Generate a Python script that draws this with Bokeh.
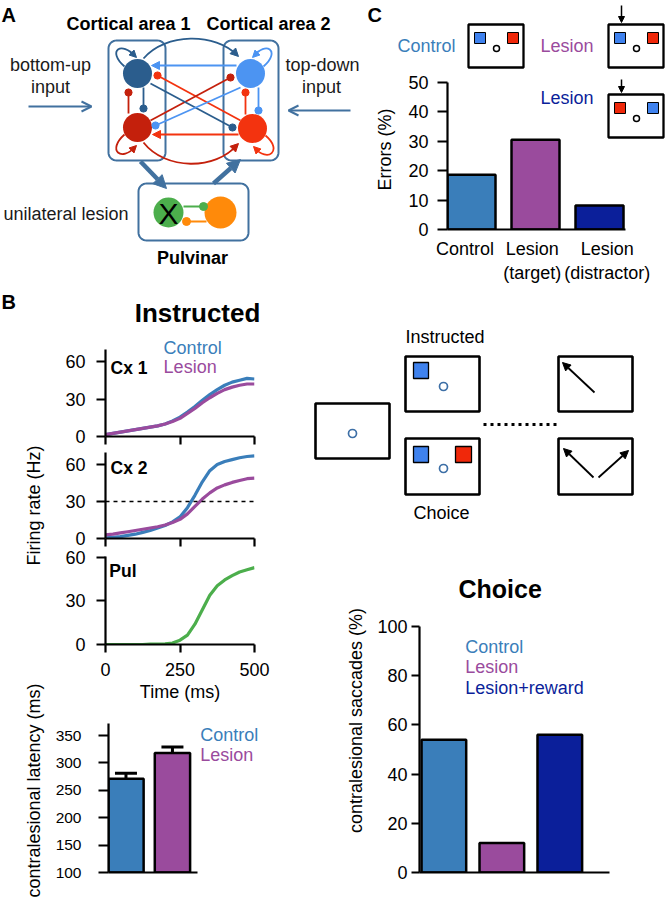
import numpy as np
from bokeh.plotting import figure
from bokeh.layouts import row, column
from bokeh.models import (Range1d, FixedTicker, Arrow, NormalHead, OpenHead, Whisker,
                          TeeHead, ColumnDataSource, Span)
from bokeh.embed import file_html
from bokeh.resources import INLINE
from bokeh.core.properties import value

S = 1.0
FONT = "Liberation Sans"

# ---------------- data ----------------
time_ms = [0, 25, 50, 75, 100, 125, 150, 175, 200, 225, 250, 275, 300, 325, 350, 375, 400, 425, 450, 475, 500]
cx1_control = [1.5, 2.5, 3.5, 4.5, 5.5, 6.5, 7.5, 8.5, 10, 12.5, 15.5, 19.5, 24, 29, 33.5, 37.5, 41, 43.5, 45, 46.5, 46]
cx1_lesion = [1.5, 2.5, 3.5, 4.5, 5.5, 6.5, 7.5, 8.5, 10, 12, 14.5, 18.5, 22.5, 27, 31, 34.5, 37.5, 39.5, 41, 42, 42]
cx2_control = [0.5, 1, 1.5, 2.5, 3.5, 5, 6.5, 8.5, 10.5, 13.5, 17.5, 25, 35, 46, 55, 60, 62.5, 64, 65.5, 66.5, 67]
cx2_lesion = [3, 3.5, 4.5, 5.5, 6.5, 7.5, 8.5, 9.5, 11, 13, 15.5, 20, 26, 32, 37, 41, 43.5, 45.5, 47, 48.5, 49]
pul_rate = [0, 0, 0, 0, 0, 0, 0.2, 0.3, 0.5, 1, 3, 6.5, 14, 24, 34, 40.5, 44.5, 47.5, 50, 51.5, 53]
threshold_hz = 30
time_ticks = [0, 250, 500]
rate_ticks = [0, 30, 60]

latency_groups = ["Control", "Lesion"]
latency_ms = [271, 318]
latency_lo = [261, 305]
latency_hi = [281, 329]
latency_ticks = [100, 150, 200, 250, 300, 350]

error_groups = ["Control", "Lesion\n(target)", "Lesion\n(distractor)"]
error_label_pos = [-0.1, 0.95, 2.12]
error_pct = [18.6, 30.5, 8.2]
error_ticks = [0, 10, 20, 30, 40, 50]

choice_groups = ["Control", "Lesion", "Lesion+reward"]
choice_pct = [54, 12, 56]
choice_ticks = [0, 20, 40, 60, 80, 100]

# ---------------- colours ----------------
CTRL = "#3A7EBA"
LES = "#9A4B9D"
LESR = "#0B1F9A"
GREEN = "#4CAE4C"
BOXC = "#41719F"
DB = "#2B5D8D"
LB = "#4C94F2"
DR = "#C4200C"
RR = "#F3330F"
ORANGE = "#FF8A0A"
SQB = "#3F82EE"
SQR = "#F0280A"
FIXC = "#3D6FA6"
TXT = "#1a1a1a"


def X(v):
    return int(round(v * S))


def fs(v):
    return f"{v * S:.1f}px"


def pix_fig(x0, x1, y0, y1):
    p = figure(width=X(x1) - X(x0), height=X(y1) - X(y0),
               x_range=Range1d(x0, x1), y_range=Range1d(y1, y0),
               output_backend="svg", toolbar_location=None,
               x_axis_location=None, y_axis_location=None,
               min_border_left=0, min_border_right=0, min_border_top=0, min_border_bottom=0)
    p.frame_align = False
    p.outline_line_color = None
    p.grid.grid_line_color = None
    p.background_fill_color = "white"
    p.border_fill_color = "white"
    return p


def chart_fig(ext, frame, xr, yr):
    x0, x1, y0, y1 = ext
    fl, fr, ft, fb = frame
    p = figure(width=X(x1) - X(x0), height=X(y1) - X(y0),
               x_range=Range1d(*xr), y_range=Range1d(*yr),
               output_backend="svg", toolbar_location=None,
               min_border_left=X(fl) - X(x0), min_border_right=X(x1) - X(fr),
               min_border_top=X(ft) - X(y0), min_border_bottom=X(y1) - X(fb))
    p.frame_align = False
    p.outline_line_color = None
    p.grid.grid_line_color = None
    p.background_fill_color = "white"
    p.border_fill_color = "white"
    for ax in (p.xaxis[0], p.yaxis[0]):
        ax.axis_line_width = 2.2
        ax.axis_line_color = "black"
        ax.major_tick_line_width = 2.2
        ax.major_tick_line_color = "black"
        ax.major_tick_in = 0
        ax.minor_tick_line_color = None
        ax.major_label_text_font = FONT
        ax.major_label_text_color = "black"
        ax.axis_label_text_font = FONT
        ax.axis_label_text_font_style = "normal"
        ax.axis_label_text_color = "black"
    return p


def no_ticks(ax):
    ax.ticker = FixedTicker(ticks=[])
    ax.major_tick_out = 0
    ax.major_tick_line_color = None
    ax.major_label_standoff = 0


def txt(p, x, y, s, size, color=TXT, align="left", bold=False, baseline="middle", angle=0.0, **kw):
    p.text(x=[x], y=[y], text=[s], text_font=value(FONT), text_font_size=value(fs(size)),
           text_color=color, text_align=align, text_baseline=baseline,
           text_font_style="bold" if bold else "normal", angle=angle, **kw)


def rrect(p, x0, y0, x1, y1, r, color, w):
    xs, ys = [], []
    corners = [(x1 - r, y0 + r, -90, 0), (x1 - r, y1 - r, 0, 90),
               (x0 + r, y1 - r, 90, 180), (x0 + r, y0 + r, 180, 270)]
    for cx, cy, a0, a1 in corners:
        for a in np.linspace(np.radians(a0), np.radians(a1), 10):
            xs.append(cx + r * np.cos(a))
            ys.append(cy + r * np.sin(a))
    xs.append(xs[0])
    ys.append(ys[0])
    p.line(xs, ys, line_color=color, line_width=w)


def seg(p, x0, y0, x1, y1, color, w=1.8):
    p.segment(x0=[x0], y0=[y0], x1=[x1], y1=[y1], line_color=color, line_width=w)


def dot(p, x, y, color, r=3.6):
    p.circle(x=[x], y=[y], radius=r, fill_color=color, line_color=color)


def ahead(p, x0, y0, x1, y1, color, size=8, **kw):
    p.add_layout(Arrow(end=NormalHead(size=size, fill_color=color, line_color=color, line_width=1),
                       x_start=x0, y_start=y0, x_end=x1, y_end=y1,
                       line_alpha=0, line_width=1, **kw))


def curve(p, x0, y0, c0x, c0y, c1x, c1y, x1, y1, color, w=1.8):
    p.bezier(x0=[x0], y0=[y0], cx0=[c0x], cy0=[c0y], cx1=[c1x], cy1=[c1y], x1=[x1], y1=[y1],
             line_color=color, line_width=w)


# ======================= Panel A =======================
pA = pix_fig(0, 366, 0, 290)
txt(pA, 1, 14, "A", 20, color="black", bold=True)
txt(pA, 128, 23, "Cortical area 1", 18, color="black", align="center", bold=True)
txt(pA, 268, 23, "Cortical area 2", 18, color="black", align="center", bold=True)
rrect(pA, 108, 40, 165, 160, 8, BOXC, 2)
rrect(pA, 223, 40, 278, 160, 8, BOXC, 2)
rrect(pA, 138, 183, 248, 240, 8, BOXC, 2)
txt(pA, 50, 64, "bottom-up", 18, align="center")
txt(pA, 50, 86, "input", 18, align="center")
txt(pA, 322, 64, "top-down", 18, align="center")
txt(pA, 321, 86, "input", 18, align="center")
txt(pA, 3, 213, "unilateral lesion", 18)
txt(pA, 192, 257, "Pulvinar", 18, color="black", align="center", bold=True)
pA.add_layout(Arrow(end=OpenHead(size=10, line_color=BOXC, line_width=2),
                    x_start=28, y_start=106, x_end=91, y_end=106, line_color=BOXC, line_width=2))
pA.add_layout(Arrow(end=OpenHead(size=10, line_color=BOXC, line_width=2),
                    x_start=350, y_start=110, x_end=288, y_end=110, line_color=BOXC, line_width=2))
pA.add_layout(Arrow(end=NormalHead(size=13, fill_color=BOXC, line_color=BOXC),
                    x_start=140, y_start=161, x_end=166, y_end=188, line_color=BOXC, line_width=4.5))
pA.add_layout(Arrow(end=NormalHead(size=13, fill_color=BOXC, line_color=BOXC),
                    x_start=213, y_start=183, x_end=240, y_end=159, line_color=BOXC, line_width=4.5))

# connections
seg(pA, 236, 65, 156, 65, LB)
seg(pA, 238, 134, 158, 134, RR)
curve(pA, 143, 58, 165, 32, 215, 32, 237, 55, DB)
curve(pA, 143, 142, 165, 170, 215, 170, 237, 144, DR)
curve(pA, 124, 66, 106, 50, 121, 40, 135, 56, DB)
curve(pA, 263, 66, 281, 50, 265, 40, 253, 56, LB)
curve(pA, 124, 134, 106, 150, 121, 162, 135, 146, DR)
curve(pA, 265, 135, 283, 150, 267, 163, 254, 147, RR)
seg(pA, 240, 120, 157, 75, RR)
seg(pA, 150, 120, 230, 77, DR)
seg(pA, 150, 83, 232, 127, DB)
seg(pA, 240, 87, 155, 125, LB)
seg(pA, 128, 113, 128, 92, DR)
seg(pA, 143, 87, 143, 108, DB)
seg(pA, 245, 114, 245, 92, RR)
seg(pA, 258, 87, 258, 110, LB)
# neurons
pA.circle(x=[137, 137, 250, 252], y=[73, 127, 73, 128], radius=14.5,
          fill_color=[DB, DR, LB, RR], line_color=None)
for (x, y, c) in [(157, 75, RR), (230, 77, DR), (232, 127, DB), (155, 125, LB),
                  (128, 92, DR), (143, 108, DB), (245, 92, RR), (258, 110, LB)]:
    dot(pA, x, y, c)
ahead(pA, 162, 65, 151, 65, LB)
ahead(pA, 163, 134, 152, 134, RR)
ahead(pA, 231, 49, 238, 56, DB)
ahead(pA, 231, 150, 238, 143, DR)
ahead(pA, 130, 51, 136, 57, DB, size=7)
ahead(pA, 258, 51, 252, 57, LB, size=7)
ahead(pA, 130, 151, 136, 145, DR, size=7)
ahead(pA, 259, 152, 253, 146, RR, size=7)
# pulvinar
seg(pA, 183, 206, 203, 206, GREEN, 2)
seg(pA, 206, 221, 186, 221, ORANGE, 2)
pA.circle(x=[168, 220], y=[212, 212], radius=[15, 16], fill_color=[GREEN, ORANGE], line_color=None)
dot(pA, 203, 206, GREEN, 4)
dot(pA, 186, 221, ORANGE, 4)
txt(pA, 168, 213, "X", 30, color="black", align="center")

# ======================= Panel C =======================
iconC = pix_fig(366, 665, 0, 69)
txt(iconC, 367, 14, "C", 20, color="black", bold=True)
txt(iconC, 397, 45, "Control", 18, color=CTRL)
txt(iconC, 540, 45, "Lesion", 18, color=LES)


def icon_box(p, x0, y0, left_col, right_col, **kw):
    p.quad(left=[x0], right=[x0 + 55], top=[y0], bottom=[y0 + 43], fill_color="white",
           line_color="black", line_width=2.3, **kw)
    p.quad(left=[x0 + 6, x0 + 39], right=[x0 + 17, x0 + 50], top=[y0 + 8, y0 + 8],
           bottom=[y0 + 19, y0 + 19], fill_color=[left_col, right_col], line_color="black",
           line_width=1, **kw)
    p.scatter(x=[x0 + 28], y=[y0 + 24], marker="circle", size=X(6), fill_color="white",
              line_color="black", line_width=1.5, **kw)


icon_box(iconC, 468, 24, SQB, SQR)
icon_box(iconC, 608, 24, SQB, SQR)
iconC.add_layout(Arrow(end=NormalHead(size=6, fill_color="black", line_color="black"),
                       x_start=621, y_start=5, x_end=621, y_end=22, line_color="black", line_width=1.5))

chartC = chart_fig((366, 665, 69, 290), (447, 665, 69, 229), (-0.375, 3.031), (0, 54.4))
chartC.extra_x_ranges = {"px": Range1d(447, 665)}
chartC.extra_y_ranges = {"py": Range1d(229, 69)}
chartC.vbar(x=[0, 1, 2], top=error_pct, bottom=0, width=0.75, fill_color=[CTRL, LES, LESR],
            line_color="black", line_width=2.5)
yC = chartC.yaxis[0]
yC.ticker = FixedTicker(ticks=error_ticks)
yC.bounds = (0, 50)
yC.major_tick_out = X(10)
yC.major_label_standoff = X(9)
yC.major_label_text_font_size = fs(18)
yC.axis_label = "Errors (%)"
yC.axis_label_text_font_size = fs(18)
yC.axis_label_standoff = X(10)
xC = chartC.xaxis[0]
xC.ticker = FixedTicker(ticks=error_label_pos)
xC.bounds = (-0.375, 2.41)
xC.major_tick_out = 0
xC.major_tick_line_color = None
xC.major_label_standoff = X(9)
xC.major_label_text_font_size = fs(18)
xC.major_label_overrides = {error_label_pos[i]: error_groups[i] for i in range(3)}
txt(chartC, 540, 97, "Lesion", 18, color=LESR, x_range_name="px", y_range_name="py")
icon_box(chartC, 608, 94, SQR, SQB, x_range_name="px", y_range_name="py")
chartC.add_layout(Arrow(end=NormalHead(size=6, fill_color="black", line_color="black"),
                        x_start=621, y_start=79, x_end=621, y_end=92, line_color="black",
                        line_width=1.5, x_range_name="px", y_range_name="py"))

# ======================= Panel B (left) =======================
header = pix_fig(0, 300, 290, 330)
txt(header, 1, 301, "B", 20, color="black", bold=True)
txt(header, 197, 312, "Instructed", 26, color="black", align="center", bold=True)

strip = pix_fig(0, 50, 330, 900)
txt(strip, 33, 505, "Firing rate (Hz)", 18, color="black", align="center", angle=np.pi / 2)
txt(strip, 33, 790, "contralesional latency (ms)", 18, color="black", align="center", angle=np.pi / 2)


def style_ts(p, show_x):
    ya = p.yaxis[0]
    ya.ticker = FixedTicker(ticks=rate_ticks)
    ya.major_tick_out = X(9)
    ya.major_label_standoff = X(11)
    ya.major_label_text_font_size = fs(18)
    xa = p.xaxis[0]
    xa.ticker = FixedTicker(ticks=time_ticks)
    xa.bounds = (0, 500)
    xa.major_tick_out = X(8)
    if show_x:
        xa.major_label_standoff = X(10)
        xa.major_label_text_font_size = fs(18)
    else:
        xa.major_label_overrides = {t: "" for t in time_ticks}
        xa.major_label_text_font_size = "1px"
        xa.major_label_standoff = 0


cx1 = chart_fig((50, 300, 330, 448), (105, 254, 330, 436), (0, 500), (0, 84.8))
style_ts(cx1, False)
cx1.yaxis[0].bounds = (0, 70)
cx1.line(time_ms, cx1_control, line_color=CTRL, line_width=3.2)
cx1.line(time_ms, cx1_lesion, line_color=LES, line_width=3.2)
txt(cx1, 17, 55, "Cx 1", 17.5, color="black", bold=True)
txt(cx1, 195, 71.2, "Control", 18, color=CTRL)
txt(cx1, 195, 56, "Lesion", 18, color=LES)

cx2 = chart_fig((50, 300, 448, 549), (105, 254, 448, 538), (0, 500), (0, 73.0))
style_ts(cx2, False)
cx2.yaxis[0].bounds = (0, 70)
cx2.add_layout(Span(location=threshold_hz, dimension="width", line_color="black",
                    line_width=1.5, line_dash="4 4"))
cx2.line(time_ms, cx2_control, line_color=CTRL, line_width=3.2)
cx2.line(time_ms, cx2_lesion, line_color=LES, line_width=3.2)
txt(cx2, 17, 56.8, "Cx 2", 17.5, color="black", bold=True)

pul = chart_fig((50, 300, 549, 708), (105, 254, 549, 644), (0, 500), (0, 65.5))
style_ts(pul, True)
pul.yaxis[0].bounds = (0, 61)
pul.xaxis[0].axis_label = "Time (ms)"
pul.xaxis[0].axis_label_text_font_size = fs(18)
pul.xaxis[0].axis_label_standoff = X(3)
pul.line(time_ms, pul_rate, line_color=GREEN, line_width=3.2)
txt(pul, 13, 51, "Pul", 17.5, color="black", bold=True)

lat = chart_fig((50, 300, 708, 900), (108, 270, 712, 872), (-0.376, 3.11), (100, 392))
lat.vbar(x=[0, 1], top=latency_ms, bottom=100, width=0.76, fill_color=[CTRL, LES],
         line_color="black", line_width=2.5)
lat_src = ColumnDataSource(dict(x=[0, 1], lo=latency_lo, hi=latency_hi))
lat.add_layout(Whisker(source=lat_src, base="x", lower="lo", upper="hi", dimension="height",
                       line_width=3, line_color="black",
                       upper_head=TeeHead(size=X(22), line_width=3, line_color="black"),
                       lower_head=TeeHead(size=X(22), line_width=3, line_color="black")))
yl = lat.yaxis[0]
yl.ticker = FixedTicker(ticks=latency_ticks)
yl.bounds = (100, 372)
yl.major_tick_out = X(10)
yl.major_label_standoff = X(17)
yl.major_label_text_font_size = fs(15.5)
xl = lat.xaxis[0]
xl.bounds = (-0.376, 1.54)
no_ticks(xl)
txt(lat, 1.60, 351.8, latency_groups[0], 18, color=CTRL)
txt(lat, 1.60, 315.3, latency_groups[1], 18, color=LES)

# ======================= Task schematic =======================
task = pix_fig(300, 665, 290, 560)
txt(task, 405, 336, "Instructed", 18, color="black")
txt(task, 413, 512, "Choice", 18, color="black")
task.quad(left=[315, 405, 405, 558, 558], right=[389, 479, 479, 632, 632],
          top=[403, 356, 438, 356, 438], bottom=[458, 411, 494, 411, 494],
          fill_color=None, line_color="black", line_width=2.6)
task.quad(left=[413, 413, 455], right=[428, 428, 471], top=[362, 446, 446], bottom=[378, 462, 462],
          fill_color=[SQB, SQB, SQR], line_color="black", line_width=1.3)
task.scatter(x=[352, 443, 443], y=[433, 386, 468], marker="circle", size=X(8.5),
             fill_color=None, line_color=FIXC, line_width=1.7)
task.line([483, 558], [424, 424], line_color="black", line_width=3, line_dash="3 4")
for (xs, ys, xe, ye) in [(594, 392, 562, 362), (593, 477, 563, 448), (598, 477, 628, 450)]:
    task.add_layout(Arrow(end=NormalHead(size=8, fill_color="black", line_color="black"),
                          x_start=xs, y_start=ys, x_end=xe, y_end=ye, line_color="black", line_width=1.8))

# ======================= Choice chart =======================
choice = chart_fig((300, 665, 560, 900), (419, 620, 568, 872), (-0.4206, 3.047), (0, 123.6))
choice.vbar(x=[0, 1, 2], top=choice_pct, bottom=0, width=0.77, fill_color=[CTRL, LES, LESR],
            line_color="black", line_width=2.5)
yc = choice.yaxis[0]
yc.ticker = FixedTicker(ticks=choice_ticks)
yc.bounds = (0, 100)
yc.major_tick_out = X(8)
yc.major_label_standoff = X(4)
yc.major_label_text_font_size = fs(18)
yc.axis_label = "contralesional saccades (%)"
yc.axis_label_text_font_size = fs(18)
yc.axis_label_standoff = X(8)
xc = choice.xaxis[0]
xc.bounds = (-0.4206, 2.86)
no_ticks(xc)
txt(choice, 0.97, 115.4, "Choice", 25, color="black", align="center", bold=True)
txt(choice, 0.369, 91.5, choice_groups[0], 18, color=CTRL)
txt(choice, 0.369, 83.7, choice_groups[1], 18, color=LES)
txt(choice, 0.369, 75.2, choice_groups[2], 18, color=LESR)

# ======================= Layout =======================
top = row(pA, column(iconC, chartC))
left = column(header, row(strip, column(cx1, cx2, pul, lat)))
right = column(task, choice)
layout = column(top, row(left, right))

open("out.html", "w").write(file_html(layout, INLINE))
